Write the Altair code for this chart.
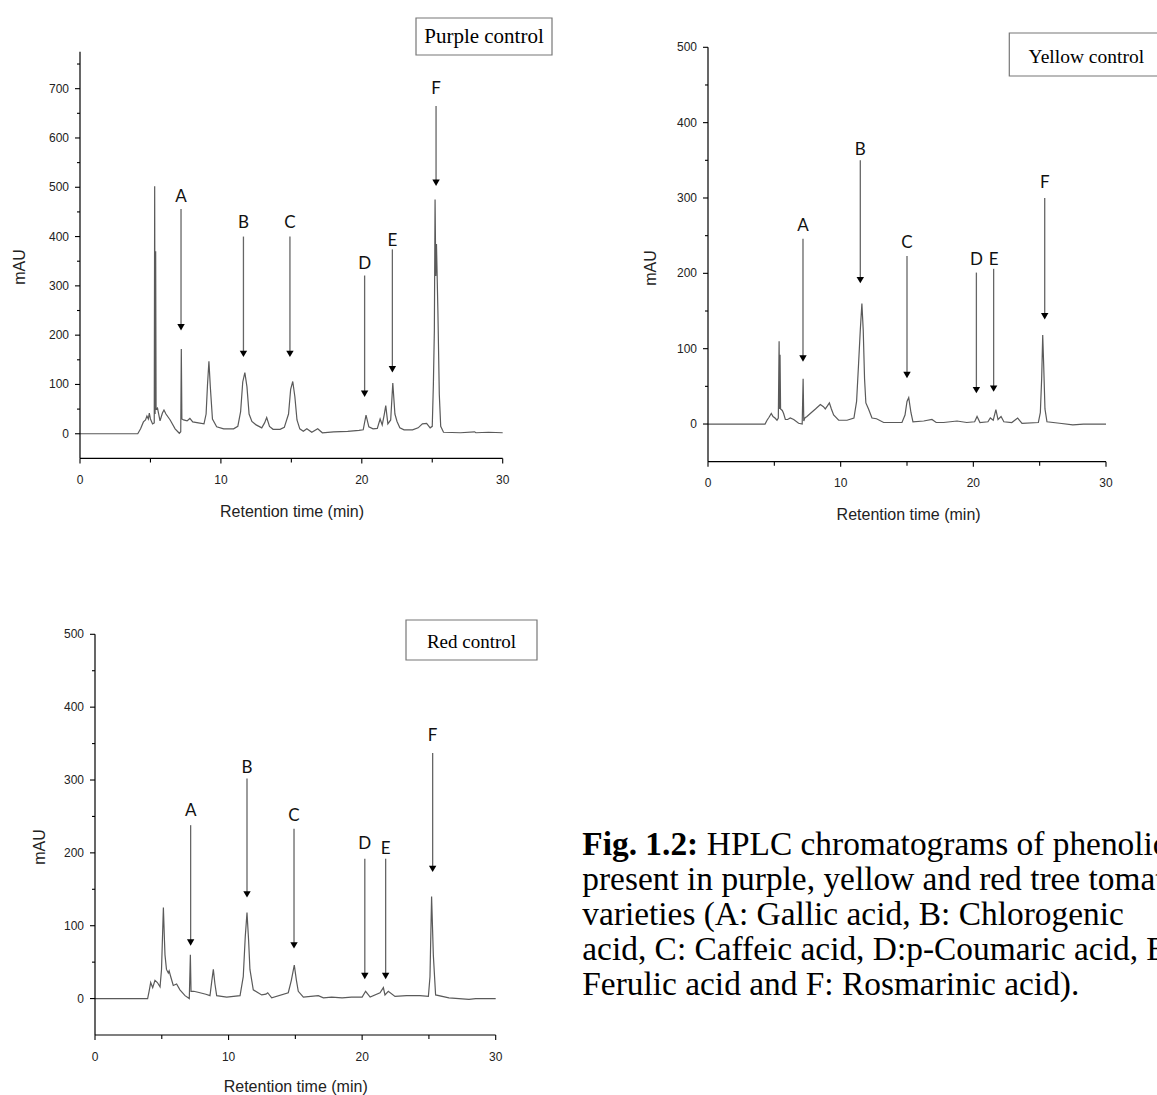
import altair as alt
import pandas as pd

# ---------------- data ----------------
# Purple control trace
p1_t = [0, 4.1, 4.3, 4.5, 4.65, 4.75, 4.85, 4.92, 5.0, 5.15, 5.27, 5.30, 5.33, 5.37, 5.40, 5.5, 5.68, 5.85, 5.96, 6.1,
        6.4, 6.75, 7.05, 7.15, 7.19, 7.23, 7.35, 7.6, 7.8, 8.0, 8.4, 8.8, 8.95, 9.05, 9.15, 9.25, 9.4, 9.7, 10.2, 10.9,
        11.2, 11.4, 11.55, 11.7, 11.85, 12.0, 12.2, 12.5, 12.9, 13.1, 13.25, 13.45, 13.7, 14.2, 14.5, 14.8, 14.95, 15.1,
        15.25, 15.4, 15.6, 15.85, 16.1, 16.45, 16.87, 17.2, 18.0, 19.0, 19.8, 20.1, 20.3, 20.5, 20.8, 21.1, 21.3, 21.45,
        21.6, 21.7, 21.85, 22.05, 22.2, 22.35, 22.5, 22.7, 23.0, 23.6, 24.0, 24.3, 24.6, 24.85, 25.0, 25.08, 25.15, 25.2,
        25.25, 25.3, 25.4, 25.5, 25.6, 25.8, 27.0, 28.0, 28.1, 29.0, 30.0]
p1_v = [0, 0, 10, 24, 28, 36, 30, 42, 30, 20, 22, 502, 40, 370, 50, 52, 26, 42, 48, 40,
        28, 10, 1, 4, 172, 30, 28, 26, 31, 24, 22, 20, 40, 100, 147, 95, 30, 14, 10, 10,
        15, 45, 105, 124, 95, 40, 25, 18, 12, 22, 33, 15, 9, 9, 13, 40, 90, 106,
        75, 28, 10, 5, 10, 3, 10, 2, 4, 5, 7, 8, 38, 14, 10, 11, 30, 18,
        40, 57, 20, 28, 103, 40, 25, 12, 8, 8, 12, 20, 21, 12, 15, 100, 210, 475,
        320, 385, 250, 80, 15, 3, 2, 4, 2, 3, 2]

# Yellow control trace
p2_t = [0, 4.3, 4.45, 4.6, 4.77, 4.9, 5.05, 5.2, 5.3, 5.36, 5.4, 5.43, 5.47, 5.6, 5.7, 5.83, 6.0, 6.2, 6.46, 6.83,
        7.1, 7.17, 7.22, 7.3, 7.46, 7.71, 8.1, 8.47, 8.7, 8.84, 9.0, 9.15, 9.3, 9.47, 9.85, 10.48, 11.0, 11.2, 11.35,
        11.48, 11.6, 11.7, 11.8, 11.9, 12.1, 12.36, 12.7, 13.24, 14.62, 14.85, 15.0, 15.13, 15.3, 15.45, 16.26, 16.88,
        17.2, 17.76, 18.77, 19.5, 20.1, 20.28, 20.5, 21.1, 21.28, 21.5, 21.7, 21.86, 22.09, 22.3, 22.9, 23.34, 23.67,
        24.9, 25.05, 25.15, 25.23, 25.3, 25.4, 25.55, 26.5, 27.5, 28.3, 30.0]
p2_v = [0, 0, 5, 9, 14, 10, 8, 5, 8, 110, 20, 92, 20, 18, 14, 6, 6, 8, 6, 1,
        0, 60, 4, 8, 10, 14, 20, 26, 23, 20, 24, 28, 20, 12, 5, 5, 8, 30, 80,
        125, 160, 125, 60, 28, 20, 8, 7, 2, 2, 12, 30, 35, 15, 3, 4, 6,
        2, 2, 4, 2, 3, 10, 2, 3, 8, 5, 19, 6, 10, 3, 2, 8, 1,
        2, 15, 60, 118, 80, 20, 3, 1, -1, 0, 0]

# Red control trace
p3_t = [0, 3.94, 4.05, 4.17, 4.32, 4.49, 4.67, 4.87, 4.98, 5.12, 5.2, 5.24, 5.35, 5.49, 5.55, 5.67, 5.86, 6.11, 6.36,
        6.74, 7.06, 7.14, 7.19, 7.4, 7.86, 8.3, 8.61, 8.75, 8.86, 8.98, 9.11, 9.86, 10.86, 11.1, 11.25, 11.38, 11.5,
        11.6, 11.85, 12.48, 12.8, 12.93, 13.23, 14.47, 14.7, 14.92, 15.08, 15.22, 15.6, 16.72, 17.1, 17.72, 18.5, 19.2,
        20.0, 20.26, 20.6, 21.34, 21.59, 21.71, 21.96, 22.46, 23.33, 24.33, 24.96, 25.08, 25.2, 25.33, 25.5, 26.5,
        28.0, 28.5, 30.0]
p3_v = [0, 0, 10, 22, 15, 25, 22, 16, 40, 125, 80, 60, 40, 35, 38, 30, 18, 20, 12,
        4, 0, 60, 10, 10, 8, 6, 4, 25, 40, 20, 4, 2, 4, 30, 85, 118, 80,
        40, 12, 5, 6, 8, 1, 8, 25, 46, 25, 10, 2, 4, 1, 2, 1, 2,
        2, 10, 2, 8, 15, 5, 10, 3, 4, 4, 3, 30, 140, 60, 5, 1,
        -1, 0, 0]

# Peak annotations (letter, retention time, arrow top, arrow head, label height) in mAU
peaks = ["A", "B", "C", "D", "E", "F"]
p1_arrow_t = [7.17, 11.6, 14.9, 20.2, 22.17, 25.27]
p1_arrow_top = [456, 400, 400, 321, 374, 665]
p1_arrow_tip = [216, 162, 162, 81, 131, 509]
p1_label_y = [480, 427, 427, 345, 392, 699]

p2_arrow_t = [7.16, 11.48, 15.0, 20.23, 21.53, 25.38]
p2_arrow_top = [246, 350, 223, 201, 206, 300]
p2_arrow_tip = [87, 191, 65, 45, 47, 143]
p2_label_y = [263, 364, 240, 218, 218, 320]

p3_arrow_t = [7.16, 11.38, 14.9, 20.2, 21.76, 25.28]
p3_arrow_top = [238, 302, 233, 192, 192, 337]
p3_arrow_tip = [77, 143, 73, 31, 31, 178]
p3_label_y = [257, 317, 251, 212, 205, 360]

# Axis ticks
x_domain = [0, 30]
x_major = [0, 10, 20, 30]
x_minor = [5, 15, 25]
y1_domain = [-50, 775]
y1_major = [0, 100, 200, 300, 400, 500, 600, 700]
y1_minor = [50, 150, 250, 350, 450, 550, 650, 750]
y2_domain = [-50, 500]
y2_major = [0, 100, 200, 300, 400, 500]
y2_minor = [50, 150, 250, 350, 450]
x_title = "Retention time (min)"
y_title = "mAU"

panel_titles = ["Purple control", "Yellow control", "Red control"]
caption_bold = "Fig. 1.2:"
caption_first = "HPLC chromatograms of phenolic acids"
caption_lines = [
    "present in purple, yellow and red tree tomato",
    "varieties (A: Gallic acid, B: Chlorogenic",
    "acid, C: Caffeic acid, D:p-Coumaric acid, E:",
    "Ferulic acid and F: Rosmarinic acid).",
]

# ---------------- layout ----------------
CELL_W = 627.7
CELL_H = 587.0
AX_FONT = "Liberation Sans"
TRACE_COLOR = "#5a5a5a"
AX_COLOR = "black"
LAB_COLOR = "#222"


def make_panel(t, v, arr_t, arr_top, arr_tip, lab_y, ydom, xr, yr, ymajor, yminor,
               title, box, title_pos, title_size, xtitle_pos, ytitle_pos):
    x0, x1 = xr
    yb, yt = yr
    xs = alt.Scale(domain=x_domain, range=[x0, x1], nice=False, zero=False)
    ys = alt.Scale(domain=ydom, range=[yb, yt], nice=False, zero=False)
    trace = pd.DataFrame({"t": t, "v": v})
    arrows = pd.DataFrame({"peak": peaks, "t": arr_t, "top": arr_top, "tip": arr_tip, "ly": lab_y})

    def X(f):
        return alt.X(f, scale=xs, axis=None)

    def Y(f):
        return alt.Y(f, scale=ys, axis=None)

    line = alt.Chart(trace).mark_line(color=TRACE_COLOR, strokeWidth=1.2).encode(
        x=X("t:Q"), y=Y("v:Q"))

    # axis lines
    ydom_df = pd.DataFrame({"lo": [ydom[0]], "hi": [ydom[1]]})
    ydom_rule = alt.Chart(ydom_df).mark_rule(color=AX_COLOR, strokeWidth=1.2).encode(
        y=Y("lo:Q"), y2="hi:Q", x=alt.value(x0))
    xdom_df = pd.DataFrame({"lo": [x_domain[0]], "hi": [x_domain[1]]})
    xdom_rule = alt.Chart(xdom_df).mark_rule(color=AX_COLOR, strokeWidth=1.2).encode(
        x=X("lo:Q"), x2="hi:Q", y=alt.value(yb))

    # ticks
    ymaj_df = pd.DataFrame({"m": ymajor})
    ymaj_rule = alt.Chart(ymaj_df).mark_rule(color=AX_COLOR, strokeWidth=1.1).encode(
        y=Y("m:Q"), x=alt.value(x0 - 5), x2=alt.value(x0))
    ymaj_text = alt.Chart(ymaj_df).mark_text(font=AX_FONT, fontSize=12, align="right",
                                             baseline="middle", color=LAB_COLOR).encode(
        y=Y("m:Q"), x=alt.value(x0 - 11), text=alt.Text("m:Q", format="d"))
    ymin_df = pd.DataFrame({"m": yminor})
    ymin_rule = alt.Chart(ymin_df).mark_rule(color=AX_COLOR, strokeWidth=1.1).encode(
        y=Y("m:Q"), x=alt.value(x0 - 3), x2=alt.value(x0))

    xmaj_df = pd.DataFrame({"m": x_major})
    xmaj_rule = alt.Chart(xmaj_df).mark_rule(color=AX_COLOR, strokeWidth=1.1).encode(
        x=X("m:Q"), y=alt.value(yb), y2=alt.value(yb + 5))
    xmaj_text = alt.Chart(xmaj_df).mark_text(font=AX_FONT, fontSize=12, align="center",
                                             baseline="middle", color=LAB_COLOR).encode(
        x=X("m:Q"), y=alt.value(yb + 21.5), text=alt.Text("m:Q", format="d"))
    xmin_df = pd.DataFrame({"m": x_minor})
    xmin_rule = alt.Chart(xmin_df).mark_rule(color=AX_COLOR, strokeWidth=1.1).encode(
        x=X("m:Q"), y=alt.value(yb), y2=alt.value(yb + 4))

    # axis titles
    xt_df = pd.DataFrame({"label": [x_title]})
    xt = alt.Chart(xt_df).mark_text(font=AX_FONT, fontSize=16, align="center",
                                    baseline="middle", color=LAB_COLOR).encode(
        x=alt.value(xtitle_pos[0]), y=alt.value(xtitle_pos[1]), text="label:N")
    yt_df = pd.DataFrame({"label": [y_title]})
    ytt = alt.Chart(yt_df).mark_text(font=AX_FONT, fontSize=16, align="center", angle=270,
                                     baseline="middle", color=LAB_COLOR).encode(
        x=alt.value(ytitle_pos[0]), y=alt.value(ytitle_pos[1]), text="label:N")

    # peak arrows
    shafts = alt.Chart(arrows).mark_rule(color="#666", strokeWidth=1.3).encode(
        x=X("t:Q"), y=Y("top:Q"), y2="tip:Q")
    heads = alt.Chart(arrows).mark_point(shape="triangle-down", filled=True, size=55,
                                         color="black", opacity=1).encode(
        x=X("t:Q"), y=Y("tip:Q"))
    letters = alt.Chart(arrows).mark_text(font="Lato", fontSize=17, baseline="middle",
                                          color="#111").encode(
        x=X("t:Q"), y=Y("ly:Q"), text="peak:N")

    # boxed panel title
    tdf = pd.DataFrame({"label": [title]})
    bx0, bx1, by0, by1 = box
    rect = alt.Chart(tdf).mark_rect(fill="white", stroke="#777", strokeWidth=1.2).encode(
        x=alt.value(bx0), x2=alt.value(bx1), y=alt.value(by0), y2=alt.value(by1))
    ttext = alt.Chart(tdf).mark_text(font="Liberation Serif", fontSize=title_size,
                                     baseline="middle", color="black").encode(
        x=alt.value(title_pos[0]), y=alt.value(title_pos[1]), text="label:N")

    return alt.layer(line, ydom_rule, xdom_rule, ymaj_rule, ymaj_text, ymin_rule,
                     xmaj_rule, xmaj_text, xmin_rule, xt, ytt,
                     shafts, heads, letters, rect, ttext).properties(width=CELL_W, height=CELL_H)


p1 = make_panel(p1_t, p1_v, p1_arrow_t, p1_arrow_top, p1_arrow_tip, p1_label_y,
                y1_domain, (0, 422.7), (411.1, 4.4), y1_major, y1_minor,
                panel_titles[0], (336, 472, -29.3, 7.7), (404, -10.8), 21,
                (212, 464.7), (-60, 219.7))
p2 = make_panel(p2_t, p2_v, p2_arrow_t, p2_arrow_top, p2_arrow_tip, p2_label_y,
                y2_domain, (0, 398), (414.4, 0), y2_major, y2_minor,
                panel_titles[1], (301.3, 457.3, -14.3, 28.7), (378.3, 9.4), 19.5,
                (200.6, 467.7), (-56.7, 220.7))
p3 = make_panel(p3_t, p3_v, p3_arrow_t, p3_arrow_top, p3_arrow_tip, p3_label_y,
                y2_domain, (15, 415.7), (400.7, 0), y2_major, y2_minor,
                panel_titles[2], (326, 457, -14.3, 25.7), (391.5, 7.7), 19,
                (215.7, 452.4), (-40, 212.7))

# caption
CAP_X = -125.7
CAP_FONT = 33.4
cap_scale = alt.Scale(domain=[0, 4], range=[210.7, 350.7])
cap_bold = alt.Chart(pd.DataFrame({"line": [0], "txt": [caption_bold]})).mark_text(
    font="Liberation Serif", fontSize=CAP_FONT, fontWeight="bold", align="left",
    baseline="middle", color="black").encode(
    x=alt.value(CAP_X), y=alt.Y("line:Q", scale=cap_scale, axis=None), text="txt:N")
cap_first = alt.Chart(pd.DataFrame({"line": [0], "txt": [caption_first]})).mark_text(
    font="Liberation Serif", fontSize=CAP_FONT, align="left",
    baseline="middle", color="black").encode(
    x=alt.value(CAP_X + 124.5), y=alt.Y("line:Q", scale=cap_scale, axis=None), text="txt:N")
cap_rest = alt.Chart(pd.DataFrame({"line": [1, 2, 3, 4], "txt": caption_lines})).mark_text(
    font="Liberation Serif", fontSize=CAP_FONT, align="left",
    baseline="middle", color="black").encode(
    x=alt.value(CAP_X), y=alt.Y("line:Q", scale=cap_scale, axis=None), text="txt:N")
caption = alt.layer(cap_bold, cap_first, cap_rest).properties(width=CELL_W, height=CELL_H)

chart = alt.concat(p1, p2, p3, caption, columns=2, spacing=0, bounds="flush").configure_view(
    stroke=None).properties(
    autosize=alt.AutoSizeParams(type="none"),
    padding={"left": 80, "top": 47.3, "right": 1077, "bottom": 1047.7},
    background="white",
)

chart.save("out.html", embed_options={"renderer": "svg", "actions": False})
